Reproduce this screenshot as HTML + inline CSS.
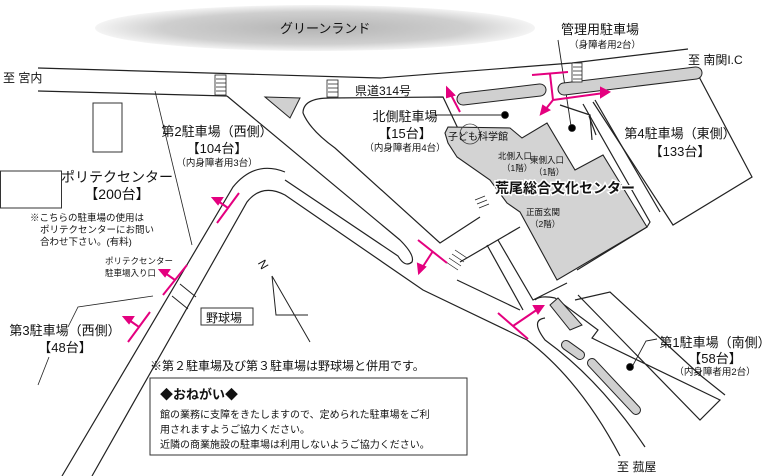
<!DOCTYPE html>
<html><head><meta charset="utf-8"><style>
html,body{margin:0;padding:0;background:#fff}
svg{display:block}
text{font-family:"Liberation Sans","Noto Sans CJK JP",sans-serif;fill:#111}
</style></head><body>
<svg width="768" height="476" viewBox="0 0 768 476" xmlns="http://www.w3.org/2000/svg">
<defs>
<radialGradient id="g" cx="50%" cy="50%" r="50%">
<stop offset="0" stop-color="#b4b4b4"/><stop offset="0.7" stop-color="#cfcfcf"/><stop offset="1" stop-color="#f4f4f4"/>
</radialGradient>
</defs>
<ellipse cx="315" cy="28" rx="220" ry="23" fill="url(#g)"/>
<text x="280" y="33" font-size="13">グリーンランド</text>

<g fill="none" stroke="#222" stroke-width="1.2">
<path d="M38,68 L380,78 L572,63 L688,49"/>
<path d="M38,91 L227,96"/>
<path d="M303,113 Q303,98 330,98 L443,97 L462,137"/>
<path d="M227,96 L400,240 Q415,255 412,262 Q405,268 398,256 L285,180"/>
<path d="M303,113 Q310,130 335,148 L440,243 L480,217"/>
<path d="M62,476 L233,187 Q255,160 285,172"/>
<path d="M92,476 L247,202 Q262,183 285,195 L423,290 L527,340"/>
<path d="M527,340 Q580,380 620,456"/>
<path d="M460,262 L520,227"/>
<path d="M487,245 L523,310"/>
<path d="M498,240 L533,300 L567,283"/>
<path d="M457,280 L520,310"/>
<path d="M535,300 Q540,295 555,298 L598,330 L592,338 L600,342 L720,400 L700,420 L578,295"/>
<path d="M545,318 Q530,320 545,340 Q600,380 645,447"/>
<path d="M575,300 L610,292 L700,375 L725,395"/>
<path d="M593,83 L697,73 L752,177 L673,225 L593,102"/>
<path d="M595,100 L660,212"/>
<path d="M583,104 L650,222 L647,227 L577,270"/>
<path d="M560,105 L590,115 L592,140"/>
<path d="M589,116 L596,135"/>
<path d="M155,91 L192,245" stroke-width="0.8"/>
<path d="M153,296 L78,307 L68,327" stroke-width="0.8"/>
<path d="M49,357 L38,385" stroke-width="0.8"/>
<path d="M180,284 L196,297 M172,296 L188,309" stroke-width="1"/>
<path d="M272,276 L310,342 M272,276 L276,315 L308,315" stroke-width="1"/>
<path d="M435,115 L505,115" stroke-width="0.9"/>
<path d="M558,40 L571,126" stroke-width="0.9"/>
<path d="M657,339 L646,341 L632,367" stroke-width="0.9"/>
</g>
<rect x="93" y="103" width="29" height="49" fill="none" stroke="#333"/>
<rect x="0.5" y="171" width="61" height="37" fill="none" stroke="#333"/>
<rect x="201" y="308" width="52" height="17" fill="none" stroke="#333"/>

<polygon points="445,133 448,127 510,128 522,138 547,123 575,170 603,155 647,227 557,280 520,212 507,203 490,180 457,157 448,143" fill="#d3d3d3" stroke="#222" stroke-width="1.1"/>
<circle cx="470" cy="134" r="10" fill="none" stroke="#444" stroke-width="0.8"/>
<polygon points="265,97 300,98 290,118" fill="#d0d0d0" stroke="#222"/>
<polygon points="550,305 558,298 582,325 570,330" fill="#d0d0d0" stroke="#222"/>
<line x1="463" y1="99" x2="540" y2="90" stroke="#222" stroke-width="13" stroke-linecap="round"/>
<line x1="463" y1="99" x2="540" y2="90" stroke="#d0d0d0" stroke-width="11" stroke-linecap="round"/>
<line x1="564" y1="89" x2="696" y2="73" stroke="#222" stroke-width="13" stroke-linecap="round"/>
<line x1="564" y1="89" x2="696" y2="73" stroke="#d0d0d0" stroke-width="11" stroke-linecap="round"/>
<line x1="566" y1="345" x2="580" y2="355" stroke="#222" stroke-width="10" stroke-linecap="round"/>
<line x1="566" y1="345" x2="580" y2="355" stroke="#d0d0d0" stroke-width="8" stroke-linecap="round"/>
<line x1="592" y1="363" x2="636" y2="410" stroke="#222" stroke-width="10" stroke-linecap="round"/>
<line x1="592" y1="363" x2="636" y2="410" stroke="#d0d0d0" stroke-width="8" stroke-linecap="round"/>

<g fill="#fff" stroke="#222" stroke-width="0.8">
<rect x="215" y="75" width="11" height="20"/><rect x="327" y="80" width="11" height="17"/><rect x="572" y="63" width="10" height="19"/>
</g>
<g stroke="#222" stroke-width="0.7">
<path d="M216,79h10M216,83h10M216,87h10M216,91h10M328,84h10M328,88h10M328,92h10M573,67h9M573,71h9M573,75h9M573,79h9"/>
<path d="M446,262 l12,8 M449,258 l12,8 M452,254 l12,8 M455,250 l12,8"/>
<path d="M475,200 l10,-4 M477,204 l10,-4 M479,208 l10,-4"/>
<circle cx="505" cy="115" r="3.5" fill="#000"/><circle cx="572" cy="128" r="3.5" fill="#000"/><circle cx="630" cy="367" r="3.5" fill="#000"/>
</g>

<g stroke="#e4007f" stroke-width="2" fill="#e4007f">
<path d="M460,112 L450,93" fill="none"/><polygon points="447,88 454,95 447,97"/>
<path d="M532,75 L568,72 M550,74 L553,100 L604,93 M553,100 L545,110" fill="none"/>
<polygon points="609,92 601,88 601,97"/><polygon points="541,114 549,110 543,106"/>
<path d="M217,223 L239,193 M228,208 L218,201 M163,295 L187,265 M175,280 L165,273 M128,342 L150,312 M139,327 L129,320" fill="none"/>
<polygon points="213,198 222,198 218,204"/><polygon points="160,270 169,270 165,276"/><polygon points="124,317 133,317 129,323"/>
<path d="M418,240 L447,263 M433,251 L422,268" fill="none"/><polygon points="419,273 418,264 425,267"/>
<path d="M498,313 L528,339 M513,326 L538,309" fill="none"/><polygon points="543,306 534,306 538,313"/>
</g>

<text x="3" y="82" font-size="12">至 宮内</text>
<text x="117" y="182" font-size="14" text-anchor="middle">ポリテクセンター</text>
<text x="117" y="199" font-size="14" text-anchor="middle">【200台】</text>
<text x="30" y="221" font-size="9.5">※こちらの駐車場の使用は</text>
<text x="40" y="233" font-size="9.5">ポリテクセンターにお問い</text>
<text x="40" y="245" font-size="9.5">合わせ下さい。(有料)</text>
<text x="105" y="264" font-size="8.5">ポリテクセンター</text>
<text x="105" y="276" font-size="8.5">駐車場入り口</text>
<text x="217" y="136" font-size="13" text-anchor="middle">第2駐車場（西側）</text>
<text x="217" y="153" font-size="13" text-anchor="middle">【104台】</text>
<text x="217" y="166" font-size="9.5" text-anchor="middle">（内身障者用3台）</text>
<text x="65" y="335" font-size="13" text-anchor="middle">第3駐車場（西側）</text>
<text x="65" y="352" font-size="13" text-anchor="middle">【48台】</text>
<text x="206" y="322" font-size="12">野球場</text>
<text x="258" y="270" font-size="12" transform="rotate(60 264 266)">N</text>
<text x="150" y="370" font-size="12">※第２駐車場及び第３駐車場は野球場と併用です。</text>
<rect x="150" y="378" width="317" height="77" fill="#fff" stroke="#333"/>
<text x="160" y="399" font-size="13" font-weight="bold">◆おねがい◆</text>
<text x="160" y="418" font-size="10">館の業務に支障をきたしますので、定められた駐車場をご利</text>
<text x="160" y="433" font-size="10">用されますようご協力ください。</text>
<text x="160" y="448" font-size="10">近隣の商業施設の駐車場は利用しないようご協力ください。</text>
<text x="355" y="95" font-size="12">県道314号</text>
<text x="405" y="121" font-size="13" text-anchor="middle">北側駐車場</text>
<text x="405" y="138" font-size="13" text-anchor="middle">【15台】</text>
<text x="405" y="151" font-size="9.5" text-anchor="middle">（内身障者用4台）</text>
<text x="600" y="34" font-size="13" text-anchor="middle">管理用駐車場</text>
<text x="605" y="48" font-size="9.5" text-anchor="middle">（身障者用2台）</text>
<text x="688" y="64" font-size="12">至 南関I.C</text>
<text x="448" y="140" font-size="10">子ども科学館</text>
<text x="498" y="159" font-size="8.5">北側入口</text><text x="502" y="171" font-size="8.5">（1階）</text>
<text x="530" y="163" font-size="8.5">東側入口</text><text x="534" y="175" font-size="8.5">（1階）</text>
<text x="495" y="193" font-size="14" font-weight="bold" stroke="#fff" stroke-width="3" paint-order="stroke">荒尾総合文化センター</text>
<text x="526" y="215" font-size="8.5">正面玄関</text><text x="530" y="227" font-size="8.5">（2階）</text>
<text x="680" y="138" font-size="13" text-anchor="middle">第4駐車場（東側）</text>
<text x="680" y="156" font-size="13" text-anchor="middle">【133台】</text>
<text x="715" y="347" font-size="13" text-anchor="middle">第1駐車場（南側）</text>
<text x="715" y="363" font-size="13" text-anchor="middle">【58台】</text>
<text x="715" y="375" font-size="9.5" text-anchor="middle">（内身障者用2台）</text>
<text x="617" y="471" font-size="12">至 菰屋</text>
</svg>
</body></html>
